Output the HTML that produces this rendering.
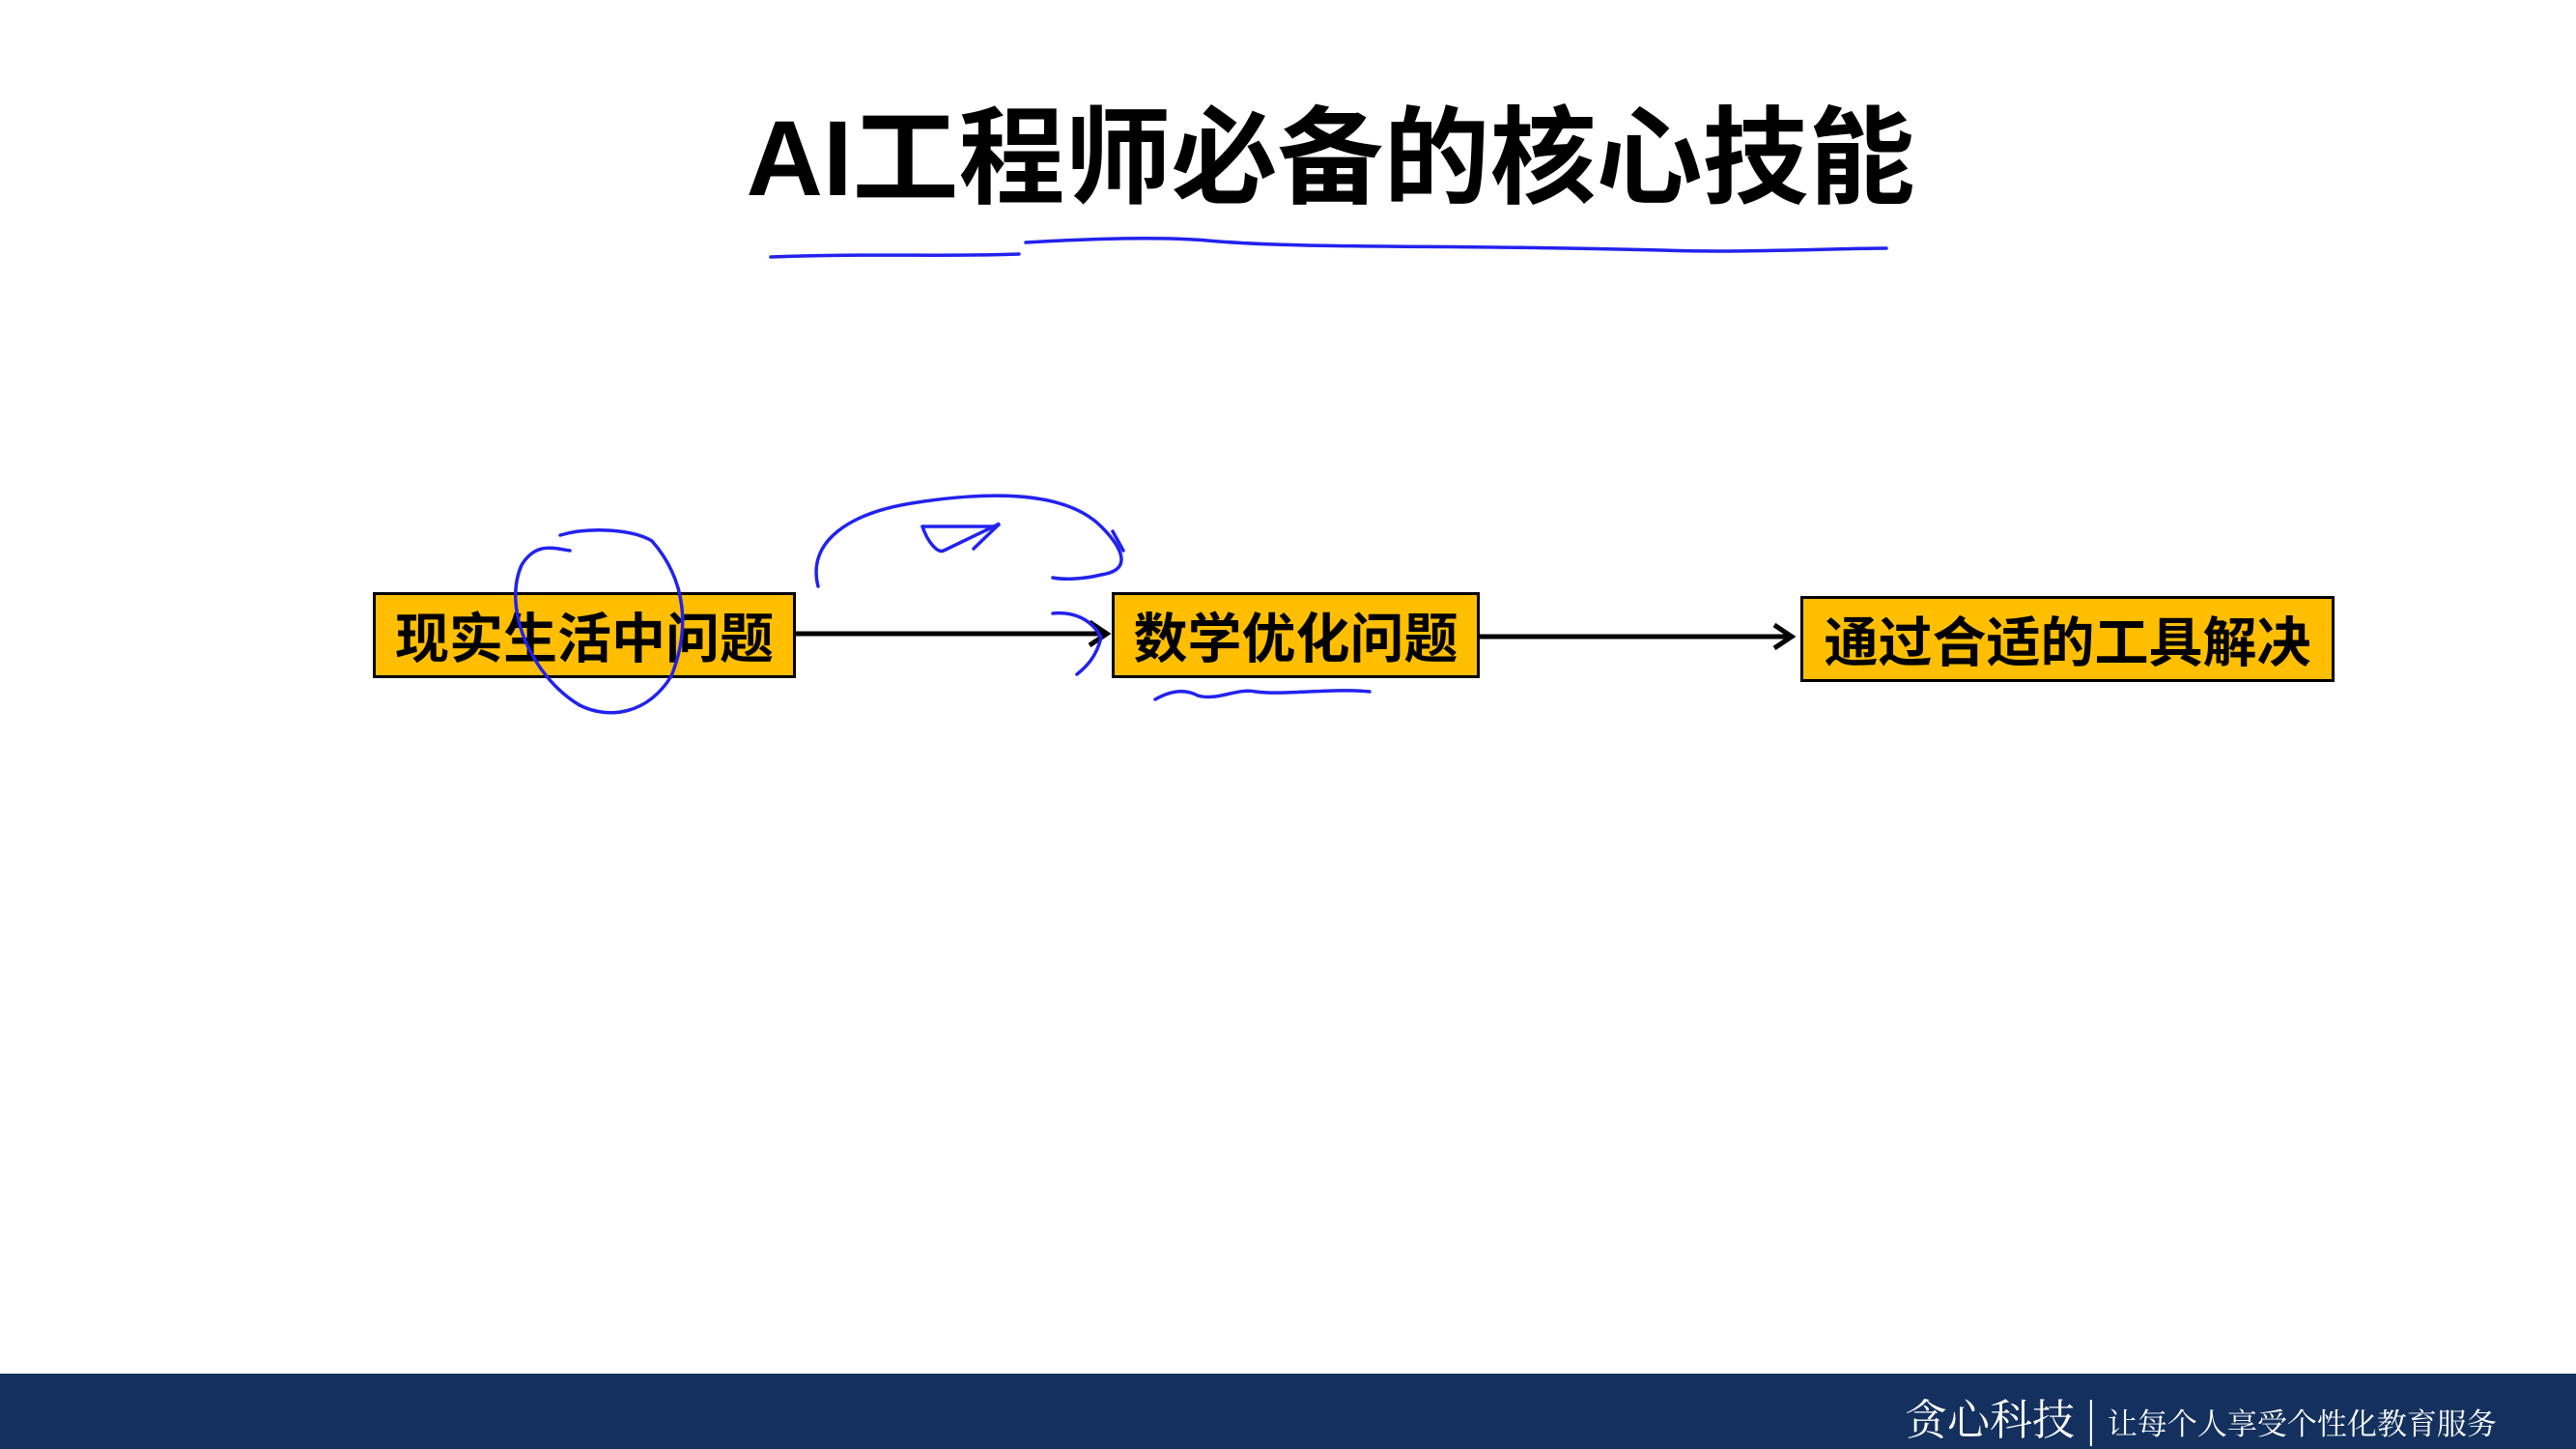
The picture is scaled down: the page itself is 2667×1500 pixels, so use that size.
<!DOCTYPE html>
<html><head><meta charset="utf-8"><style>
html,body{margin:0;padding:0;background:#fff}
body{width:2667px;height:1500px;position:relative;overflow:hidden;font-family:"Liberation Sans","Noto Sans CJK SC",sans-serif}
.t{position:absolute;left:0;width:2755px;top:95px;text-align:center;font-size:110px;font-weight:bold;color:#000;line-height:140px}
.box{position:absolute;background:#ffbf00;border:3px solid #000;box-sizing:border-box;font-weight:bold;font-size:56px;display:flex;align-items:center;justify-content:center;color:#000}
.foot{position:absolute;left:0;top:1422px;width:2667px;height:78px;background:#14305e}
.ft{position:absolute;left:1972px;top:1434px;color:#fff;font-family:"Noto Serif CJK SC","Noto Sans CJK SC",serif;white-space:nowrap}
</style></head><body>
<div class="t">AI工程师必备的核心技能</div>
<div class="box" style="left:386px;top:613px;width:438px;height:89px">现实生活中问题</div>
<div class="box" style="left:1151px;top:613px;width:381px;height:89px">数学优化问题</div>
<div class="box" style="left:1864px;top:617px;width:553px;height:89px">通过合适的工具解决</div>
<svg width="2667" height="1500" style="position:absolute;left:0;top:0" fill="none">
<g stroke="#000" stroke-width="5">
<line x1="824" y1="656" x2="1146" y2="656"/>
<polyline points="1128,644 1146,656 1128,668"/>
<line x1="1532" y1="659" x2="1855" y2="659"/>
<polyline points="1837,647 1855,659 1837,671"/>
</g>
<g stroke="#2222ee" stroke-width="3.5" stroke-linecap="round">
<path d="M798,266 C900,262 980,266 1055,263"/>
<path d="M1062,251 C1130,247 1200,245 1250,249 C1350,258 1500,253 1720,259 C1800,262 1900,257 1953,257"/>
<path d="M580,554 C610,545 655,548 675,560 C710,600 715,650 695,700 C670,740 630,745 600,730 C550,700 520,630 540,585 C555,560 575,568 590,570"/>
<path d="M847,607 C835,560 880,530 950,520 C1050,505 1110,515 1140,545 C1160,565 1175,590 1140,595 C1120,600 1100,600 1090,598"/>
<path d="M1152,550 L1163,570"/>
<path d="M955,545 C960,560 970,573 977,570 L1035,542 L1008,568"/>
<path d="M955,545 L1030,545"/>
<path d="M1090,635 C1110,633 1130,640 1140,660 C1135,680 1125,690 1115,698"/>
<path d="M1196,724 C1210,716 1225,712 1240,720 C1260,726 1280,712 1300,716 C1330,720 1380,712 1418,716"/>
</g>
</svg>
<div class="foot"></div>
<div class="ft"><span style="font-size:44px">贪心科技</span><span style="font-size:44px;margin:0 10px">|</span><span style="font-size:31px">让每个人享受个性化教育服务</span></div>
</body></html>
